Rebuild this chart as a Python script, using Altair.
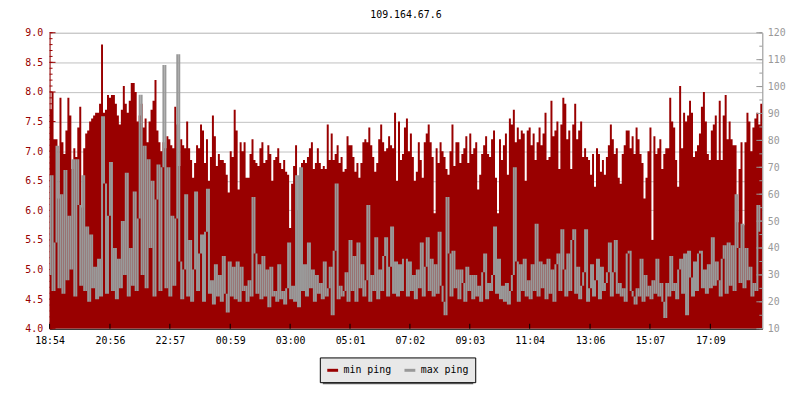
import altair as alt
import pandas as pd
import numpy as np

title_text = "109.164.67.6"
tick_labels = ["18:54", "20:56", "22:57", "00:59", "03:00", "05:01",
               "07:02", "09:03", "11:04", "13:06", "15:07", "17:09"]
series_names = ["min ping", "max ping"]
series_colors = ["#990000", "#999999"]
step_minutes = 4
span_minutes = 1440

# min ping (left axis), 4-minute samples, 6 blocks of 4 hours
red_1 = [7.7, 8.0, 7.2, 7.2, 6.2, 7.9, 7.15, 6.95, 7.35, 7.9, 7.6, 6.7, 7.05, 6.9, 7.4, 7.75, 6.05, 7.05, 7.3, 7.35,
         7.5, 7.55, 7.6, 7.65, 7.65, 7.8, 8.8, 7.65, 7.7, 7.95, 7.9, 7.95, 7.95, 7.8, 7.6, 7.45, 7.7, 8.1, 7.8, 7.65,
         7.85, 8.15, 8.15, 8.0, 7.5, 7.6, 7.8, 7.4, 7.55, 7.15, 7.5, 7.7, 7.85, 8.2, 7.35, 7.15, 7.0, 7.15, 7.05, 7.25]
red_2 = [7.2, 7.1, 7.05, 7.75, 7.45, 6.75, 7.2, 7.1, 7.05, 7.5, 7.05, 6.85, 6.55, 6.8, 7.1, 7.05, 7.45, 7.35, 6.8, 7.2,
         6.5, 6.9, 7.6, 7.25, 6.75, 6.95, 6.85, 6.85, 6.8, 6.6, 6.3, 7.0, 6.9, 7.7, 7.35, 6.35, 7.15, 7.0, 7.15, 6.55,
         6.55, 6.95, 7.2, 6.85, 6.8, 6.75, 7.05, 7.15, 6.8, 6.85, 7.1, 6.95, 6.5, 6.85, 6.9, 7.05, 6.8, 6.7, 6.85, 6.65]
red_3 = [6.6, 5.7, 6.45, 6.75, 7.1, 6.0, 6.6, 6.8, 6.85, 6.8, 6.9, 7.05, 7.15, 6.7, 6.8, 7.05, 6.8, 6.7, 6.75, 6.7,
         7.45, 6.85, 7.3, 6.85, 6.95, 7.1, 6.8, 6.9, 6.65, 6.7, 7.25, 7.1, 7.1, 6.9, 6.65, 6.8, 6.55, 6.8, 7.15, 7.2,
         7.15, 7.4, 7.1, 6.9, 6.65, 6.8, 7.2, 7.45, 7.15, 7.0, 7.05, 7.25, 7.1, 7.05, 7.65, 6.5, 7.5, 6.85, 6.95, 7.4]
red_4 = [7.55, 7.0, 7.3, 6.9, 6.5, 6.65, 7.15, 6.85, 6.55, 7.15, 7.3, 7.45, 7.15, 6.9, 5.95, 7.05, 6.8, 7.15, 7.0, 6.9,
         6.7, 6.6, 7.0, 7.45, 6.75, 7.15, 7.15, 6.8, 6.95, 7.05, 7.25, 6.8, 7.3, 6.95, 7.05, 7.15, 6.35, 6.6, 6.95, 7.1,
         7.25, 6.95, 6.9, 7.2, 7.35, 6.55, 5.95, 7.2, 6.85, 7.1, 7.3, 6.6, 7.55, 7.45, 7.7, 7.15, 7.4, 7.2, 7.35, 7.3]
red_5 = [6.5, 7.35, 7.4, 7.1, 7.3, 6.85, 7.15, 7.4, 7.1, 7.3, 7.65, 6.85, 6.9, 7.85, 7.25, 7.35, 7.5, 6.7, 7.45, 7.9,
         7.8, 7.2, 7.35, 6.7, 7.45, 7.8, 7.2, 7.35, 7.5, 6.9, 7.05, 6.9, 6.85, 6.6, 6.95, 6.4, 7.05, 6.95, 6.65, 6.85,
         6.6, 6.9, 7.1, 7.45, 7.2, 6.95, 7.05, 6.55, 6.45, 6.95, 7.1, 7.35, 7.35, 7.05, 7.25, 6.95, 7.4, 7.2, 6.95, 6.8]
red_6 = [6.2, 6.55, 7.0, 7.4, 5.5, 7.25, 6.95, 7.05, 7.2, 6.7, 6.95, 7.05, 7.05, 7.9, 7.5, 7.4, 6.85, 6.4, 8.1, 7.05,
         7.65, 7.5, 7.6, 7.85, 7.65, 6.9, 7.0, 7.1, 7.3, 7.75, 8.0, 7.5, 6.95, 6.85, 7.35, 7.45, 7.6, 6.85, 7.85, 6.85,
         7.6, 7.95, 7.2, 7.5, 7.2, 7.1, 7.1, 5.8, 6.7, 7.15, 5.75, 7.15, 7.65, 7.5, 7.0, 7.4, 7.55, 7.65, 7.45, 7.8]

# max ping (right axis)
gray_1 = [30, 67, 24, 42, 78, 25, 60, 23, 69, 28, 52, 32, 73, 22, 73, 56, 26, 67, 24, 48,
          20, 45, 25, 33, 21, 36, 22, 89, 64, 23, 52, 72, 24, 40, 21, 36, 25, 50, 30, 68,
          22, 40, 26, 61, 24, 51, 97, 30, 78, 25, 73, 40, 65, 22, 58, 71, 24, 70, 108, 25]
gray_2 = [70, 22, 52, 26, 51, 112, 35, 21, 32, 60, 22, 43, 20, 32, 61, 24, 38, 45, 20, 46,
          62, 23, 28, 19, 34, 22, 30, 20, 37, 23, 16, 35, 22, 33, 21, 35, 20, 33, 24, 26,
          20, 28, 22, 59, 38, 23, 34, 21, 37, 22, 32, 18, 33, 22, 24, 20, 34, 21, 24, 19]
gray_3 = [25, 42, 21, 26, 20, 67, 18, 70, 24, 34, 22, 42, 25, 32, 20, 30, 23, 27, 21, 35,
          22, 25, 33, 15, 39, 64, 21, 26, 22, 24, 31, 20, 43, 24, 37, 20, 42, 25, 34, 22,
          28, 56, 20, 30, 24, 44, 21, 32, 24, 37, 44, 22, 33, 48, 23, 35, 22, 34, 24, 36]
gray_4 = [36, 22, 35, 24, 30, 21, 32, 25, 42, 22, 33, 44, 24, 36, 22, 34, 23, 46, 26, 20,
          15, 59, 38, 22, 39, 25, 32, 21, 32, 27, 20, 33, 24, 30, 21, 30, 22, 26, 20, 31,
          38, 21, 27, 24, 30, 48, 23, 36, 21, 26, 20, 27, 19, 24, 30, 70, 35, 20, 34, 24]
gray_5 = [36, 22, 28, 21, 34, 24, 49, 22, 35, 25, 34, 21, 36, 23, 32, 20, 34, 38, 24, 47,
          32, 22, 38, 24, 43, 47, 23, 33, 21, 26, 31, 47, 20, 25, 34, 22, 28, 36, 21, 33,
          24, 27, 31, 42, 22, 31, 43, 23, 27, 22, 25, 20, 38, 39, 24, 22, 19, 25, 22, 36]
gray_6 = [20, 30, 22, 26, 21, 28, 23, 36, 22, 27, 20, 14, 27, 22, 37, 24, 27, 21, 32, 36,
          23, 38, 15, 39, 29, 22, 35, 24, 38, 39, 25, 32, 23, 34, 25, 44, 26, 35, 28, 22,
          36, 41, 23, 42, 26, 41, 24, 60, 40, 27, 49, 25, 40, 28, 33, 22, 27, 24, 56, 46]

min_ping = red_1 + red_2 + red_3 + red_4 + red_5 + red_6
max_ping = gray_1 + gray_2 + gray_3 + gray_4 + gray_5 + gray_6

left_domain = [4.0, 9.0]
right_domain = [10, 120]
left_major = [round(4.0 + 0.5 * i, 1) for i in range(11)]
left_minor = [round(4.0 + 0.1 * i, 1) for i in range(51)]
right_major = [10 + 10 * i for i in range(12)]
right_minor = [10 + 5 * i for i in range(23)]


def to_minutes(s):
    h, m = map(int, s.split(":"))
    h0, m0 = map(int, tick_labels[0].split(":"))
    return ((h * 60 + m) - (h0 * 60 + m0)) % 1440


tick_pos = [to_minutes(s) for s in tick_labels]

n = len(min_ping)
t = list(np.arange(n) * step_minutes)
# step-after area needs a closing point at the end of the last sample
area_df = pd.DataFrame({
    "t": t + [n * step_minutes],
    "min_ping": min_ping + [min_ping[-1]],
    "series": series_names[0],
})
# the max-ping line drawn as its vertical segments between consecutive samples
line_df = pd.DataFrame({
    "tc": [v + step_minutes / 2 for v in t],
    "max_ping": max_ping,
    "next_ping": max_ping[1:] + [max_ping[-1]],
    "series": series_names[1],
})

FONT = "DejaVu Sans Mono"
W, H = 720, 299

label_expr = "[" + ",".join("'%s'" % s for s in tick_labels) + "][indexof([" + \
    ",".join(str(p) for p in tick_pos) + "], datum.value)]"

xscale = alt.Scale(domain=[0, span_minutes], nice=False, zero=False)
x_axis = alt.Axis(values=tick_pos, labelExpr=label_expr, title=None, tickSize=0,
                  domainColor="black", labelColor="black", labelFont=FONT, labelFontSize=10,
                  labelPadding=7, grid=False, labelFlush=False)
lscale = alt.Scale(domain=left_domain, nice=False, zero=False)
rscale = alt.Scale(domain=right_domain, nice=False, zero=False)
cscale = alt.Scale(domain=series_names, range=series_colors)

left_axis = alt.Axis(values=left_major, format=".1f", title=None, tickSize=0,
                     labelColor="#990000", domainColor="#990000", labelFont=FONT,
                     labelFontSize=10, labelPadding=7, grid=True, gridColor="#c0c0c0",
                     gridWidth=1)
right_axis = alt.Axis(values=right_major, title=None, tickSize=0, orient="right",
                      labelColor="#999999", domainColor="#999999", labelFont=FONT,
                      labelFontSize=10, labelPadding=5, grid=False)

legend = alt.Legend(title=None, orient="none", legendX=273, legendY=328, direction="horizontal",
                    fillColor="#e8e8e8", strokeColor="black", padding=6,
                    symbolType="stroke", symbolStrokeWidth=3, symbolSize=120,
                    labelFont=FONT, labelFontSize=10, labelColor="black", columnPadding=6,
                    labelOffset=4, labelLimit=0)

area = alt.Chart(area_df).mark_area(interpolate="step-after", clip=True).encode(
    x=alt.X("t:Q", scale=xscale, axis=x_axis),
    y=alt.Y("min_ping:Q", scale=lscale, axis=left_axis),
    y2=alt.datum(left_domain[0]),
    color=alt.Color("series:N", scale=cscale, legend=legend),
)

lt_minor = alt.Chart(pd.DataFrame({"v": left_minor})).mark_rule(color="#990000").encode(
    y=alt.Y("v:Q", scale=lscale, axis=left_axis), x=alt.value(0), x2=alt.value(3))
lt_major = alt.Chart(pd.DataFrame({"v": left_major})).mark_rule(color="#990000").encode(
    y=alt.Y("v:Q", scale=lscale, axis=left_axis), x=alt.value(0), x2=alt.value(6))

left_layer = alt.layer(area, lt_minor, lt_major)

line = alt.Chart(line_df).mark_rule(strokeWidth=2, clip=True).encode(
    x=alt.X("tc:Q", scale=xscale, axis=x_axis),
    y=alt.Y("max_ping:Q", scale=rscale, axis=right_axis),
    y2="next_ping:Q",
    color=alt.Color("series:N", scale=cscale, legend=legend),
)
rt_minor = alt.Chart(pd.DataFrame({"v": right_minor})).mark_rule(color="#999999").encode(
    y=alt.Y("v:Q", scale=rscale, axis=right_axis), x=alt.value(W), x2=alt.value(W - 3))
rt_major = alt.Chart(pd.DataFrame({"v": right_major})).mark_rule(color="#999999").encode(
    y=alt.Y("v:Q", scale=rscale, axis=right_axis), x=alt.value(W), x2=alt.value(W - 6))

right_layer = alt.layer(line, rt_minor, rt_major)

xt = alt.Chart(pd.DataFrame({"p": tick_pos})).mark_rule(color="black").encode(
    x=alt.X("p:Q", scale=xscale, axis=x_axis), y=alt.value(H), y2=alt.value(H - 5))

shadow = alt.Chart(pd.DataFrame({"a": [0]})).mark_rect(color="#666666").encode(
    x=alt.value(276), x2=alt.value(428), y=alt.value(331), y2=alt.value(355))

chart = alt.layer(shadow, left_layer, right_layer, xt).resolve_scale(y="independent").properties(
    width=W, height=H,
    title=alt.TitleParams(title_text, font=FONT, fontSize=10, fontWeight="normal",
                          color="black", anchor="middle", offset=8),
    autosize=alt.AutoSizeParams(type="none"),
    padding={"left": 42, "top": 23, "right": 30, "bottom": 70},
).configure_view(stroke=None).configure(background="white")

chart.save("out.html", embed_options={"renderer": "svg", "actions": False})
